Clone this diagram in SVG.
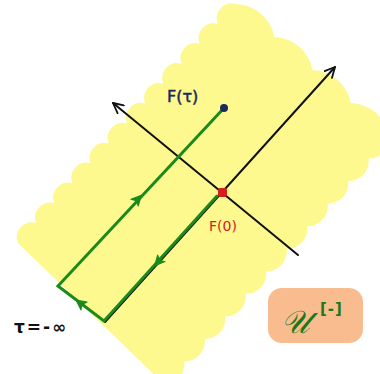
<svg xmlns="http://www.w3.org/2000/svg" width="380" height="374" viewBox="0 0 380 374">
<style>
.axis{fill:none;stroke:#111;stroke-width:2;stroke-linecap:round}
.path{fill:none;stroke:#1b8a1b;stroke-width:3;stroke-linejoin:miter;stroke-linecap:round}
.lbl{font-family:"DejaVu Sans","Liberation Sans",sans-serif}
</style>
<defs>
<marker id="openArrow" viewBox="0 0 12 12" refX="11" refY="6" markerWidth="12" markerHeight="12" markerUnits="userSpaceOnUse" orient="auto">
<path d="M1,1 L11,6 L1,11" fill="none" stroke="#111" stroke-width="1.8" stroke-linecap="round" stroke-linejoin="round"/>
</marker>
<path id="gArrow" d="M5,0 L-5,-5 L-2.5,0 L-5,5 Z" fill="#1b8a1b" stroke="#1b8a1b" stroke-width="1" stroke-linejoin="round"/>
</defs>
<rect width="380" height="374" fill="#ffffff"/>
<g id="region">
<path fill="#fdf98e" d="M18,243 a15,15 0 0 1 18.17,-19.92 a15,15 0 0 1 18.17,-19.92 a15,15 0 0 1 18.17,-19.92 a15,15 0 0 1 18.17,-19.92 a15,15 0 0 1 18.17,-19.92 a15,15 0 0 1 18.17,-19.92 a15,15 0 0 1 18.17,-19.92 a15,15 0 0 1 18.17,-19.92 a15,15 0 0 1 18.17,-19.92 a15,15 0 0 1 18.17,-19.92 a15,15 0 0 1 18.17,-19.92 a15,15 0 0 1 18.17,-19.92 a40,40 0 0 1 38.25,33 a40,40 0 0 1 38.25,33 a40,40 0 0 1 38.25,33 a40,40 0 0 1 38.25,33 a20,20 0 0 1 -20.48,22.54 a20,20 0 0 1 -20.48,22.54 a20,20 0 0 1 -20.48,22.54 a20,20 0 0 1 -20.48,22.54 a20,20 0 0 1 -20.48,22.54 a20,20 0 0 1 -20.48,22.54 a20,20 0 0 1 -20.48,22.54 a20,20 0 0 1 -20.48,22.54 a20,20 0 0 1 -20.48,22.54 a20,20 0 0 1 -20.48,22.54 a20,20 0 0 1 -20.48,22.54 Z"/>
</g>
<g id="connectors">
<line class="axis" x1="298" y1="255" x2="113" y2="103" marker-end="url(#openArrow)"/>
<line class="axis" x1="105" y1="322" x2="335" y2="67" marker-end="url(#openArrow)"/>
<path class="path" d="M224,108 L58,286 L104,321 L217,196"/>
<use href="#gArrow" transform="translate(138,199) rotate(-47)"/>
<use href="#gArrow" transform="translate(80,303) rotate(217)"/>
<use href="#gArrow" transform="translate(158,262) rotate(132)"/>
</g>
<g id="F-tau">
<circle cx="224" cy="108" r="4" fill="#1a2a5e"/>
<text class="lbl" x="167" y="102" font-size="16" fill="#1a2a5e" stroke="#1a2a5e" stroke-width="0.5">F(τ)</text>
</g>
<g id="F-0">
<rect x="218" y="188" width="9" height="9" rx="2" fill="#d91c1c"/>
<text class="lbl" x="209" y="231" font-size="14" fill="#d42020">F(0)</text>
</g>
<g id="tau-inf">
<text class="lbl" x="14" y="333" font-size="17" font-weight="bold" letter-spacing="2" fill="#111">τ=-∞</text>
</g>
<g id="U-label">
<rect x="268" y="288" width="95" height="55" rx="14" fill="#f8bc8e"/>
<text x="281" y="333" font-family="'DejaVu Serif','Liberation Serif',serif" font-style="italic" font-size="32" fill="#1a7a1a">𝒰</text>
<text class="lbl" x="320" y="314" font-size="15" font-weight="bold" letter-spacing="1" fill="#1a7a1a">[-]</text>
</g>
</svg>
